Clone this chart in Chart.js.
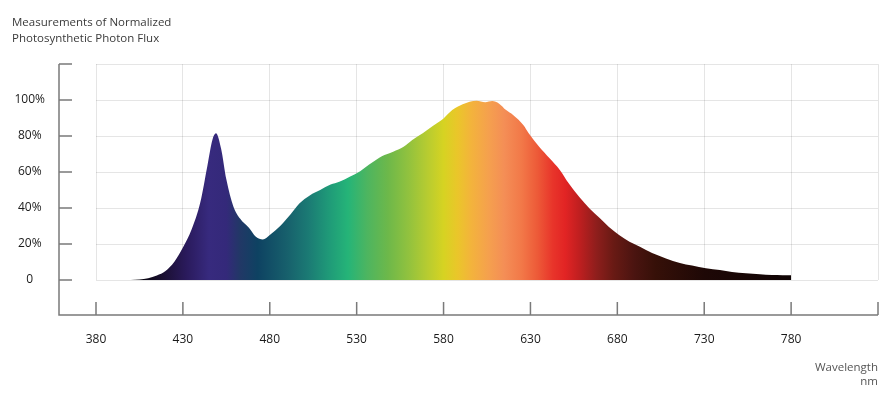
<!DOCTYPE html>
<html>
<head>
<meta charset="utf-8">
<script src="https://cdn.jsdelivr.net/npm/chart.js@4"></script>
<style>
  html, body { margin: 0; padding: 0; background: #fff; overflow: hidden; }
  #wrap { width: 895px; height: 399px; position: relative; }
  canvas { display: block; }
</style>
</head>
<body>
<div id="wrap"><canvas id="chart"></canvas></div>
<script>
// Normalized photosynthetic photon flux
const wavelengths = [400, 405, 410, 415, 420, 425, 430, 435, 440, 444, 447, 449, 452, 455, 459, 463, 468, 472, 476, 480,
  486, 492, 497, 503, 509, 515, 520, 526, 532, 537, 543, 546, 551, 557, 562, 568, 574, 580, 585, 591,
  599, 604, 608, 612, 616, 620, 626, 629, 635, 641, 647, 652, 658, 664, 670, 675, 681, 687, 693, 700,
  708, 716, 723, 731, 739, 746, 754, 762, 769, 775, 780]
const flux = [0, 0.3, 1, 2.5, 5, 10, 18, 28, 43, 63, 78, 81.5, 73, 56, 41, 34, 29, 24, 22.5, 25,
  30, 36.5, 42.5, 47, 50, 53, 54.6, 57.4, 60.5, 64, 68, 69.4, 71.3, 74, 77.8, 81.5, 85.7, 89.8, 94.4, 97.6,
  99.6, 98.8, 99.4, 98, 94.4, 91.7, 86, 81.5, 74, 67.6, 61, 53.7, 46.3, 39.8, 34.3, 29.6, 25, 21.3, 18.5, 15,
  12, 9.5, 8, 6.5, 5.5, 4.5, 3.8, 3.2, 2.8, 2.7, 2.6]

const xTicks = [380, 430, 480, 530, 580, 630, 680, 730, 780, 830]
const yTicks = [0, 20, 40, 60, 80, 100, 120]

// spectrum colours along the wavelength axis
const stopWavelengths = [400, 418, 432, 445, 455, 463, 473, 490, 502, 514, 525, 536, 548, 560, 571, 580,
  588, 596, 606, 615, 625, 634, 643, 650, 658, 668, 678, 690, 702, 730, 780]
const stopColors = ["#000000", "#1a0f30", "#2a1a5c", "#372a7e", "#34297a", "#213866", "#0e4262", "#17606c",
  "#1b7a74", "#1f9a78", "#25b478", "#4db560", "#6db84a", "#92c23e", "#b8cc30", "#d6d322",
  "#eac62a", "#f3b33c", "#f5a04e", "#f48e56", "#f27848", "#ed5a38", "#e8342a", "#e22424",
  "#c01f20", "#8e1e1c", "#681a14", "#4a1410", "#361008", "#1e0806", "#100404"]

const FONT = "'Open Sans', sans-serif"

function spectrumFill(context) {
  const chart = context.chart
  const area = chart.chartArea
  if (!area) return null
  const xs = chart.scales.x
  const g = chart.ctx.createLinearGradient(area.left, 0, area.right, 0)
  const w = area.right - area.left
  stopWavelengths.forEach((wl, i) => {
    g.addColorStop((xs.getPixelForValue(wl) - area.left) / w, stopColors[i])
  })
  return g
}

// dark axis lines sitting away from the grid box
const offsetAxes = {
  id: "offsetAxes",
  afterDraw(chart) {
    const { ctx, chartArea } = chart
    const xs = chart.scales.x
    const ys = chart.scales.y
    const axisX = chartArea.left - 37
    const axisY = chartArea.bottom + 35
    ctx.save()
    ctx.strokeStyle = "#7a7a7a"
    ctx.lineWidth = 1.5
    ctx.beginPath()
    ctx.moveTo(axisX, ys.getPixelForValue(yTicks[yTicks.length - 1]))
    ctx.lineTo(axisX, axisY)
    ctx.lineTo(xs.getPixelForValue(xTicks[xTicks.length - 1]), axisY)
    yTicks.forEach(v => {
      const py = ys.getPixelForValue(v)
      ctx.moveTo(axisX, py)
      ctx.lineTo(axisX + 13, py)
    })
    xTicks.forEach(v => {
      const px = xs.getPixelForValue(v)
      ctx.moveTo(px, axisY)
      ctx.lineTo(px, axisY - 13)
    })
    ctx.stroke()
    ctx.restore()
  }
}

new Chart(document.getElementById("chart"), {
  type: "line",
  data: {
    datasets: [{
      data: wavelengths.map((w, i) => ({ x: w, y: flux[i] })),
      fill: "origin",
      backgroundColor: spectrumFill,
      borderWidth: 0,
      pointRadius: 0,
      cubicInterpolationMode: "monotone"
    }]
  },
  options: {
    responsive: true,
    maintainAspectRatio: false,
    devicePixelRatio: 1,
    animation: false,
    layout: { padding: { left: 12, right: 17, top: 0, bottom: 10 } },
    plugins: {
      legend: { display: false },
      tooltip: { enabled: false },
      title: {
        display: true,
        text: ["Measurements of Normalized", "Photosynthetic Photon Flux"],
        align: "start",
        color: "#3a3a3a",
        font: { family: FONT, size: 11.5, weight: "normal", lineHeight: 1.35 },
        padding: { top: 15, bottom: 18 }
      }
    },
    scales: {
      x: {
        type: "linear",
        min: 380,
        max: 830,
        z: 1,
        afterBuildTicks: s => { s.ticks = xTicks.map(v => ({ value: v })) },
        afterFit: s => {
          s.height = 109
          s.paddingLeft = 0
          s.paddingRight = 0
        },
        grid: { color: "rgba(0,0,0,0.1)", drawTicks: false },
        border: { display: false },
        ticks: {
          padding: 52,
          color: "#1a1a1a",
          font: { family: FONT, size: 12 },
          maxRotation: 0,
          callback: v => (v === 830 ? "" : String(v))
        },
        title: {
          display: true,
          text: ["Wavelength", "nm"],
          align: "end",
          color: "#555",
          font: { family: FONT, size: 11.5, lineHeight: 1.25 },
          padding: 0
        }
      },
      y: {
        min: 0,
        max: 120,
        z: 1,
        afterBuildTicks: s => { s.ticks = yTicks.map(v => ({ value: v })) },
        afterFit: s => {
          s.width = 84
          s.paddingTop = 0
          s.paddingBottom = 0
        },
        grid: { color: "rgba(0,0,0,0.1)", drawTicks: false },
        border: { display: false },
        ticks: {
          padding: 51,
          crossAlign: "center",
          color: "#1a1a1a",
          font: { family: FONT, size: 12 },
          callback: v => (v === 0 ? "0" : v === 120 ? "" : v + "%")
        }
      }
    }
  },
  plugins: [offsetAxes]
})
</script>
</body>
</html>
